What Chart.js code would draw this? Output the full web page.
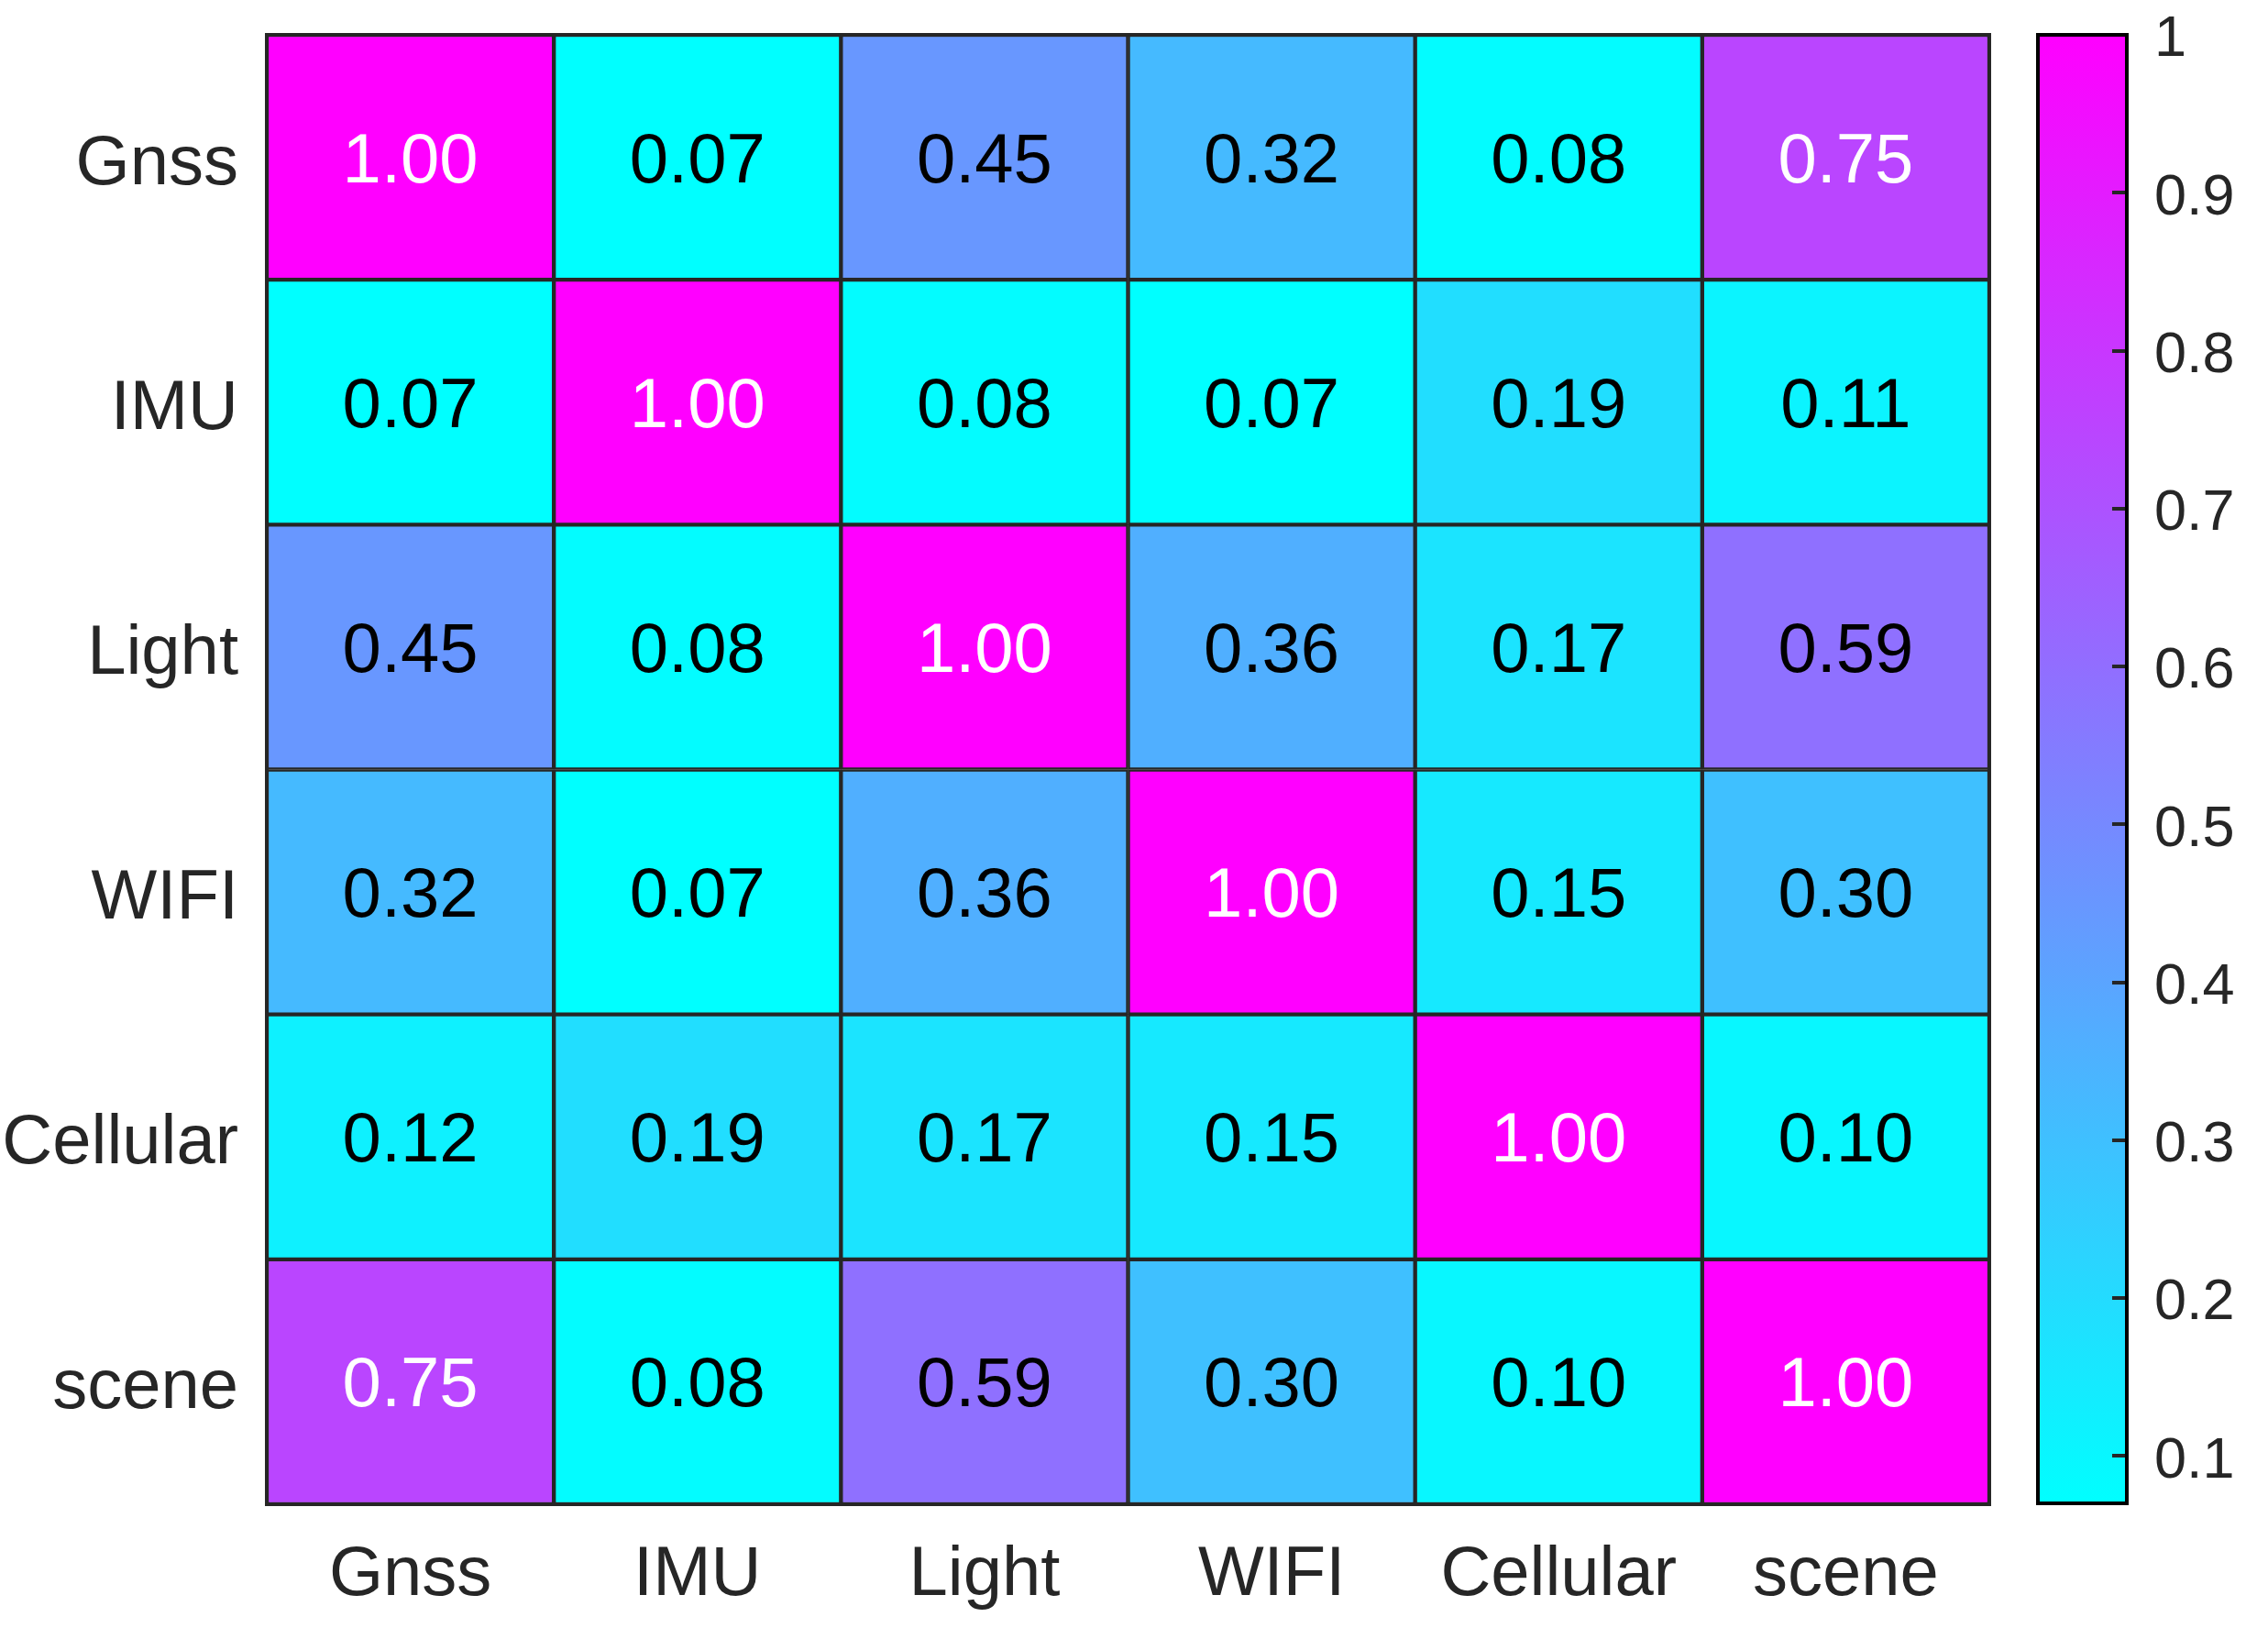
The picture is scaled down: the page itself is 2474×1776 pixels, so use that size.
<!DOCTYPE html>
<html>
<head>
<meta charset="utf-8">
<script src="https://cdn.jsdelivr.net/npm/chart.js@4.4.1/dist/chart.umd.min.js"></script>
<style>
html, body { margin: 0; padding: 0; background: #fff; }
#wrap { position: relative; width: 2474px; height: 1776px; }
#heatmap { position: absolute; left: 0; top: 0; }
#colorbar { position: absolute; left: 2180px; top: 0; }
</style>
</head>
<body>
<div id="wrap">
  <canvas id="heatmap" width="2474" height="1776"></canvas>
  <canvas id="colorbar" width="294" height="1776"></canvas>
</div>
<script>
// Correlation matrix (rows top to bottom, columns left to right)
var labels   = ['Gnss', 'IMU', 'Light', 'WIFI', 'Cellular', 'scene'];
var gnss     = [1.00, 0.07, 0.45, 0.32, 0.08, 0.75];
var imu      = [0.07, 1.00, 0.08, 0.07, 0.19, 0.11];
var light    = [0.45, 0.08, 1.00, 0.36, 0.17, 0.59];
var wifi     = [0.32, 0.07, 0.36, 1.00, 0.15, 0.30];
var cellular = [0.12, 0.19, 0.17, 0.15, 1.00, 0.10];
var scene    = [0.75, 0.08, 0.59, 0.30, 0.10, 1.00];
var rows = [gnss, imu, light, wifi, cellular, scene];
var colorbarTicks = [0.1, 0.2, 0.3, 0.4, 0.5, 0.6, 0.7, 0.8, 0.9, 1];

var FONT = '"Liberation Sans", Arial, sans-serif';
var AXIS_COLOR = '#262626';
Chart.defaults.font.family = FONT;

var allValues = [].concat.apply([], rows);
var cmin = Math.min.apply(null, allValues);
var cmax = Math.max.apply(null, allValues);

// matlab "cool" colormap: cyan -> magenta
function coolT(v) {
    return Math.max(0, Math.min(1, (v - cmin) / (cmax - cmin)));
}
function coolColor(v) {
    var t = coolT(v);
    return 'rgb(' + Math.round(255 * t) + ',' + Math.round(255 * (1 - t)) + ',255)';
}
function textColor(v) {
    var t = coolT(v);
    var lum = 0.2989 * t + 0.587 * (1 - t) + 0.114;
    return lum < 0.5 ? '#ffffff' : '#000000';
}
// stop chart.js from adding label overflow padding to the chart area
function noScalePadding(s) {
    s.paddingTop = 0; s.paddingBottom = 0;
    s.paddingLeft = 0; s.paddingRight = 0;
}

// Heatmap: each row is a set of floating bars spanning [r, r+1]
var datasets = rows.map(function (row, r) {
    return {
        label: labels[r],
        data: row.map(function () { return [r, r + 1]; }),
        backgroundColor: row.map(coolColor),
        borderColor: AXIS_COLOR,
        borderWidth: 2.5,
        borderSkipped: false,
        barPercentage: 1,
        categoryPercentage: 1,
        grouped: false
    };
});

var cellText = {
    id: 'cellText',
    afterDatasetsDraw: function (chart) {
        var ctx = chart.ctx;
        ctx.save();
        ctx.font = '76px ' + FONT;
        ctx.textAlign = 'center';
        ctx.textBaseline = 'alphabetic';
        rows.forEach(function (row, r) {
            chart.getDatasetMeta(r).data.forEach(function (bar, c) {
                var p = bar.getCenterPoint();
                ctx.fillStyle = textColor(row[c]);
                ctx.fillText(row[c].toFixed(2), p.x, p.y + 27);
            });
        });
        var a = chart.chartArea;
        ctx.strokeStyle = AXIS_COLOR;
        ctx.lineWidth = 4;
        ctx.strokeRect(a.left, a.top, a.right - a.left, a.bottom - a.top);
        ctx.restore();
    }
};

new Chart(document.getElementById('heatmap'), {
    type: 'bar',
    data: { labels: labels, datasets: datasets },
    options: {
        responsive: false,
        animation: false,
        layout: { padding: { left: 0, top: 38, right: 304, bottom: 0 } },
        plugins: { legend: { display: false }, tooltip: { enabled: false } },
        scales: {
            x: {
                type: 'category',
                grid: { display: false, drawTicks: false, tickLength: 0 },
                border: { display: false },
                ticks: { color: AXIS_COLOR, font: { size: 76 }, padding: 32, maxRotation: 0 },
                afterFit: function (s) { s.height = 135; noScalePadding(s); }
            },
            y: {
                type: 'linear',
                min: 0,
                max: rows.length,
                reverse: true,
                grid: { display: false, drawTicks: false, tickLength: 0 },
                border: { display: false },
                afterBuildTicks: function (s) {
                    s.ticks = labels.map(function (l, i) { return { value: i + 0.5 }; });
                },
                ticks: {
                    color: AXIS_COLOR,
                    font: { size: 76 },
                    padding: 31,
                    labelOffset: 8,
                    callback: function (v) { return labels[Math.floor(v)]; }
                },
                afterFit: function (s) { s.width = 291; noScalePadding(s); }
            }
        }
    },
    plugins: [cellText]
});

// Colorbar
var colorbarFrame = {
    id: 'colorbarFrame',
    afterDatasetsDraw: function (chart) {
        var ctx = chart.ctx;
        var a = chart.chartArea;
        var y = chart.scales.y;
        ctx.save();
        ctx.strokeStyle = AXIS_COLOR;
        ctx.lineWidth = 4;
        colorbarTicks.forEach(function (v) {
            var py = Math.round(y.getPixelForValue(v));
            ctx.beginPath();
            ctx.moveTo(a.right - 16, py);
            ctx.lineTo(a.right, py);
            ctx.stroke();
        });
        ctx.strokeStyle = '#000000';
        ctx.lineWidth = 4;
        ctx.strokeRect(a.left, a.top, a.right - a.left, a.bottom - a.top);
        ctx.restore();
    }
};

new Chart(document.getElementById('colorbar'), {
    type: 'bar',
    data: {
        labels: [''],
        datasets: [{
            data: [[cmin, cmax]],
            backgroundColor: function (context) {
                var a = context.chart.chartArea;
                if (!a) return coolColor(cmax);
                var g = context.chart.ctx.createLinearGradient(0, a.bottom, 0, a.top);
                g.addColorStop(0, coolColor(cmin));
                g.addColorStop(1, coolColor(cmax));
                return g;
            },
            borderWidth: 0,
            barPercentage: 1,
            categoryPercentage: 1
        }]
    },
    options: {
        responsive: false,
        animation: false,
        layout: { padding: { left: 43, top: 38, right: 0, bottom: 136 } },
        plugins: { legend: { display: false }, tooltip: { enabled: false } },
        scales: {
            x: { display: false },
            y: {
                position: 'right',
                min: cmin,
                max: cmax,
                grid: { display: false, drawTicks: false, tickLength: 0 },
                border: { display: false },
                afterBuildTicks: function (s) {
                    s.ticks = colorbarTicks.map(function (v) { return { value: v }; });
                },
                ticks: {
                    color: AXIS_COLOR,
                    font: { size: 63 },
                    padding: 30,
                    labelOffset: 6,
                    callback: function (v) { return String(+v.toFixed(1)); }
                },
                afterFit: function (s) { s.width = 154; noScalePadding(s); }
            }
        }
    },
    plugins: [colorbarFrame]
});
</script>
</body>
</html>
